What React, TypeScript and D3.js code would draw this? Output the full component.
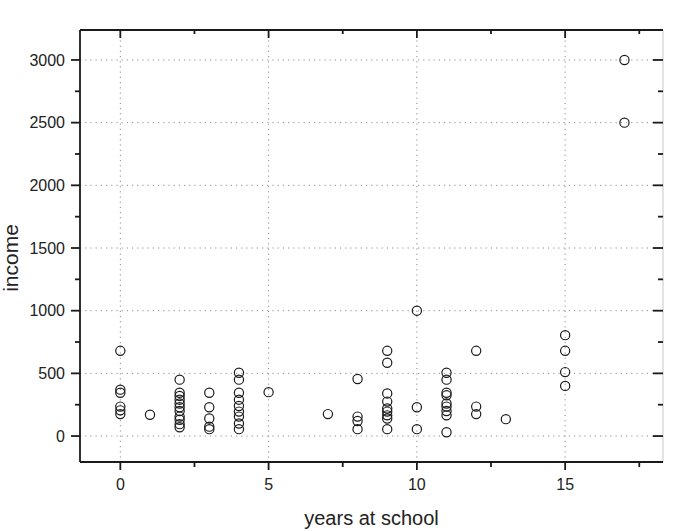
import React from "react";
import * as d3 from "d3";

// years at school for each person
const years = [
  0, 0, 0, 0, 0, 0,
  1,
  2, 2, 2, 2, 2, 2, 2, 2, 2, 2, 2,
  3, 3, 3, 3, 3,
  4, 4, 4, 4, 4, 4, 4, 4, 4,
  5,
  7,
  8, 8, 8, 8,
  9, 9, 9, 9, 9, 9, 9, 9, 9,
  10, 10, 10,
  11, 11, 11, 11, 11, 11, 11, 11, 11,
  12, 12, 12,
  13,
  15, 15, 15, 15,
  17, 17,
];

// income, same order as years
const income = [
  680, 370, 345, 235, 205, 175,
  170,
  450, 345, 320, 290, 260, 230, 200, 155, 130, 95, 70,
  345, 230, 140, 75, 55,
  505, 450, 345, 290, 240, 195, 155, 100, 55,
  350,
  175,
  455, 155, 120, 55,
  680, 585, 340, 275, 220, 195, 165, 140, 55,
  1000, 230, 55,
  505, 450, 345, 325, 260, 235, 200, 165, 30,
  680, 235, 175,
  135,
  805, 680, 510, 400,
  3000, 2500,
];

const xTicks = [0, 5, 10, 15];
const xMinorTicks = [2.5, 7.5, 12.5, 17.5];
const yTicks = [0, 500, 1000, 1500, 2000, 2500, 3000];
const yMinorTicks = [250, 750, 1250, 1750, 2250, 2750];

const xTitle = "years at school";
const yTitle = "income";

const App = () => {
  const width = 673;
  const height = 531;
  // plot box
  const margin = { top: 30, right: 10, bottom: 69, left: 80 };
  const right = width - margin.right;
  const bottom = height - margin.bottom;

  const xScale = d3.scaleLinear().domain([-1.36, 18.3]).range([margin.left, right]);
  const yScale = d3.scaleLinear().domain([-207, 3239]).range([bottom, margin.top]);

  const font = "'Liberation Sans', Arial, sans-serif";
  const dark = "#1a1a1a";

  return (
    <svg
      width={width}
      height={height}
      style={{ position: "absolute", left: 0, top: 0, background: "#fff" }}
      fontFamily={font}
    >
      {/* dotted grid */}
      {xTicks.map((t) => (
        <line
          key={"gx" + t}
          x1={xScale(t)}
          x2={xScale(t)}
          y1={margin.top}
          y2={bottom}
          stroke="#8c8c8c"
          strokeWidth={1}
          strokeDasharray="1.2,4"
        />
      ))}
      {yTicks.map((t) => (
        <line
          key={"gy" + t}
          x1={margin.left}
          x2={right}
          y1={yScale(t)}
          y2={yScale(t)}
          stroke="#8c8c8c"
          strokeWidth={1}
          strokeDasharray="1.2,4"
        />
      ))}

      {/* frame */}
      <line x1={right} x2={right} y1={margin.top} y2={bottom} stroke="#c8c8c8" strokeWidth={1} />
      <line x1={margin.left} x2={right} y1={margin.top} y2={margin.top} stroke={dark} strokeWidth={1.8} />
      <line x1={margin.left} x2={right} y1={bottom} y2={bottom} stroke={dark} strokeWidth={1.8} />
      <line x1={margin.left} x2={margin.left} y1={margin.top} y2={bottom} stroke={dark} strokeWidth={1.8} />

      {/* x ticks */}
      {xTicks.map((t) => (
        <g key={"xt" + t}>
          <line x1={xScale(t)} x2={xScale(t)} y1={bottom} y2={bottom + 8} stroke={dark} strokeWidth={1.8} />
          <line x1={xScale(t)} x2={xScale(t)} y1={margin.top} y2={margin.top + 8} stroke={dark} strokeWidth={1.8} />
          <text x={xScale(t)} y={bottom + 28} textAnchor="middle" fontSize={16} fill="#222">
            {t}
          </text>
        </g>
      ))}
      {xMinorTicks.map((t) => (
        <g key={"xm" + t}>
          <line x1={xScale(t)} x2={xScale(t)} y1={bottom} y2={bottom + 5} stroke={dark} strokeWidth={1.8} />
          <line x1={xScale(t)} x2={xScale(t)} y1={margin.top} y2={margin.top + 4} stroke={dark} strokeWidth={1.8} />
        </g>
      ))}

      {/* y ticks */}
      {yTicks.map((t) => (
        <g key={"yt" + t}>
          <line x1={margin.left - 9} x2={margin.left} y1={yScale(t)} y2={yScale(t)} stroke={dark} strokeWidth={1.8} />
          <line x1={right - 10} x2={right} y1={yScale(t)} y2={yScale(t)} stroke={dark} strokeWidth={1.8} />
          <text x={margin.left - 15} y={yScale(t)} dy="0.35em" textAnchor="end" fontSize={16} fill="#222">
            {t}
          </text>
        </g>
      ))}
      {yMinorTicks.map((t) => (
        <g key={"ym" + t}>
          <line x1={margin.left - 5} x2={margin.left} y1={yScale(t)} y2={yScale(t)} stroke={dark} strokeWidth={1.8} />
          <line x1={right - 5} x2={right} y1={yScale(t)} y2={yScale(t)} stroke={dark} strokeWidth={1.8} />
        </g>
      ))}

      {/* points */}
      {years.map((x, i) => (
        <circle
          key={"p" + i}
          cx={xScale(x)}
          cy={yScale(income[i])}
          r={4.6}
          fill="none"
          stroke={dark}
          strokeWidth={1.2}
        />
      ))}

      {/* axis titles */}
      <text
        x={(margin.left + right) / 2}
        y={525}
        textAnchor="middle"
        fontSize={20}
        fill="#222"
      >
        {xTitle}
      </text>
      <text
        transform={`translate(18, 258) rotate(-90)`}
        textAnchor="middle"
        fontSize={21}
        fill="#222"
      >
        {yTitle}
      </text>
    </svg>
  );
};

export default App;
